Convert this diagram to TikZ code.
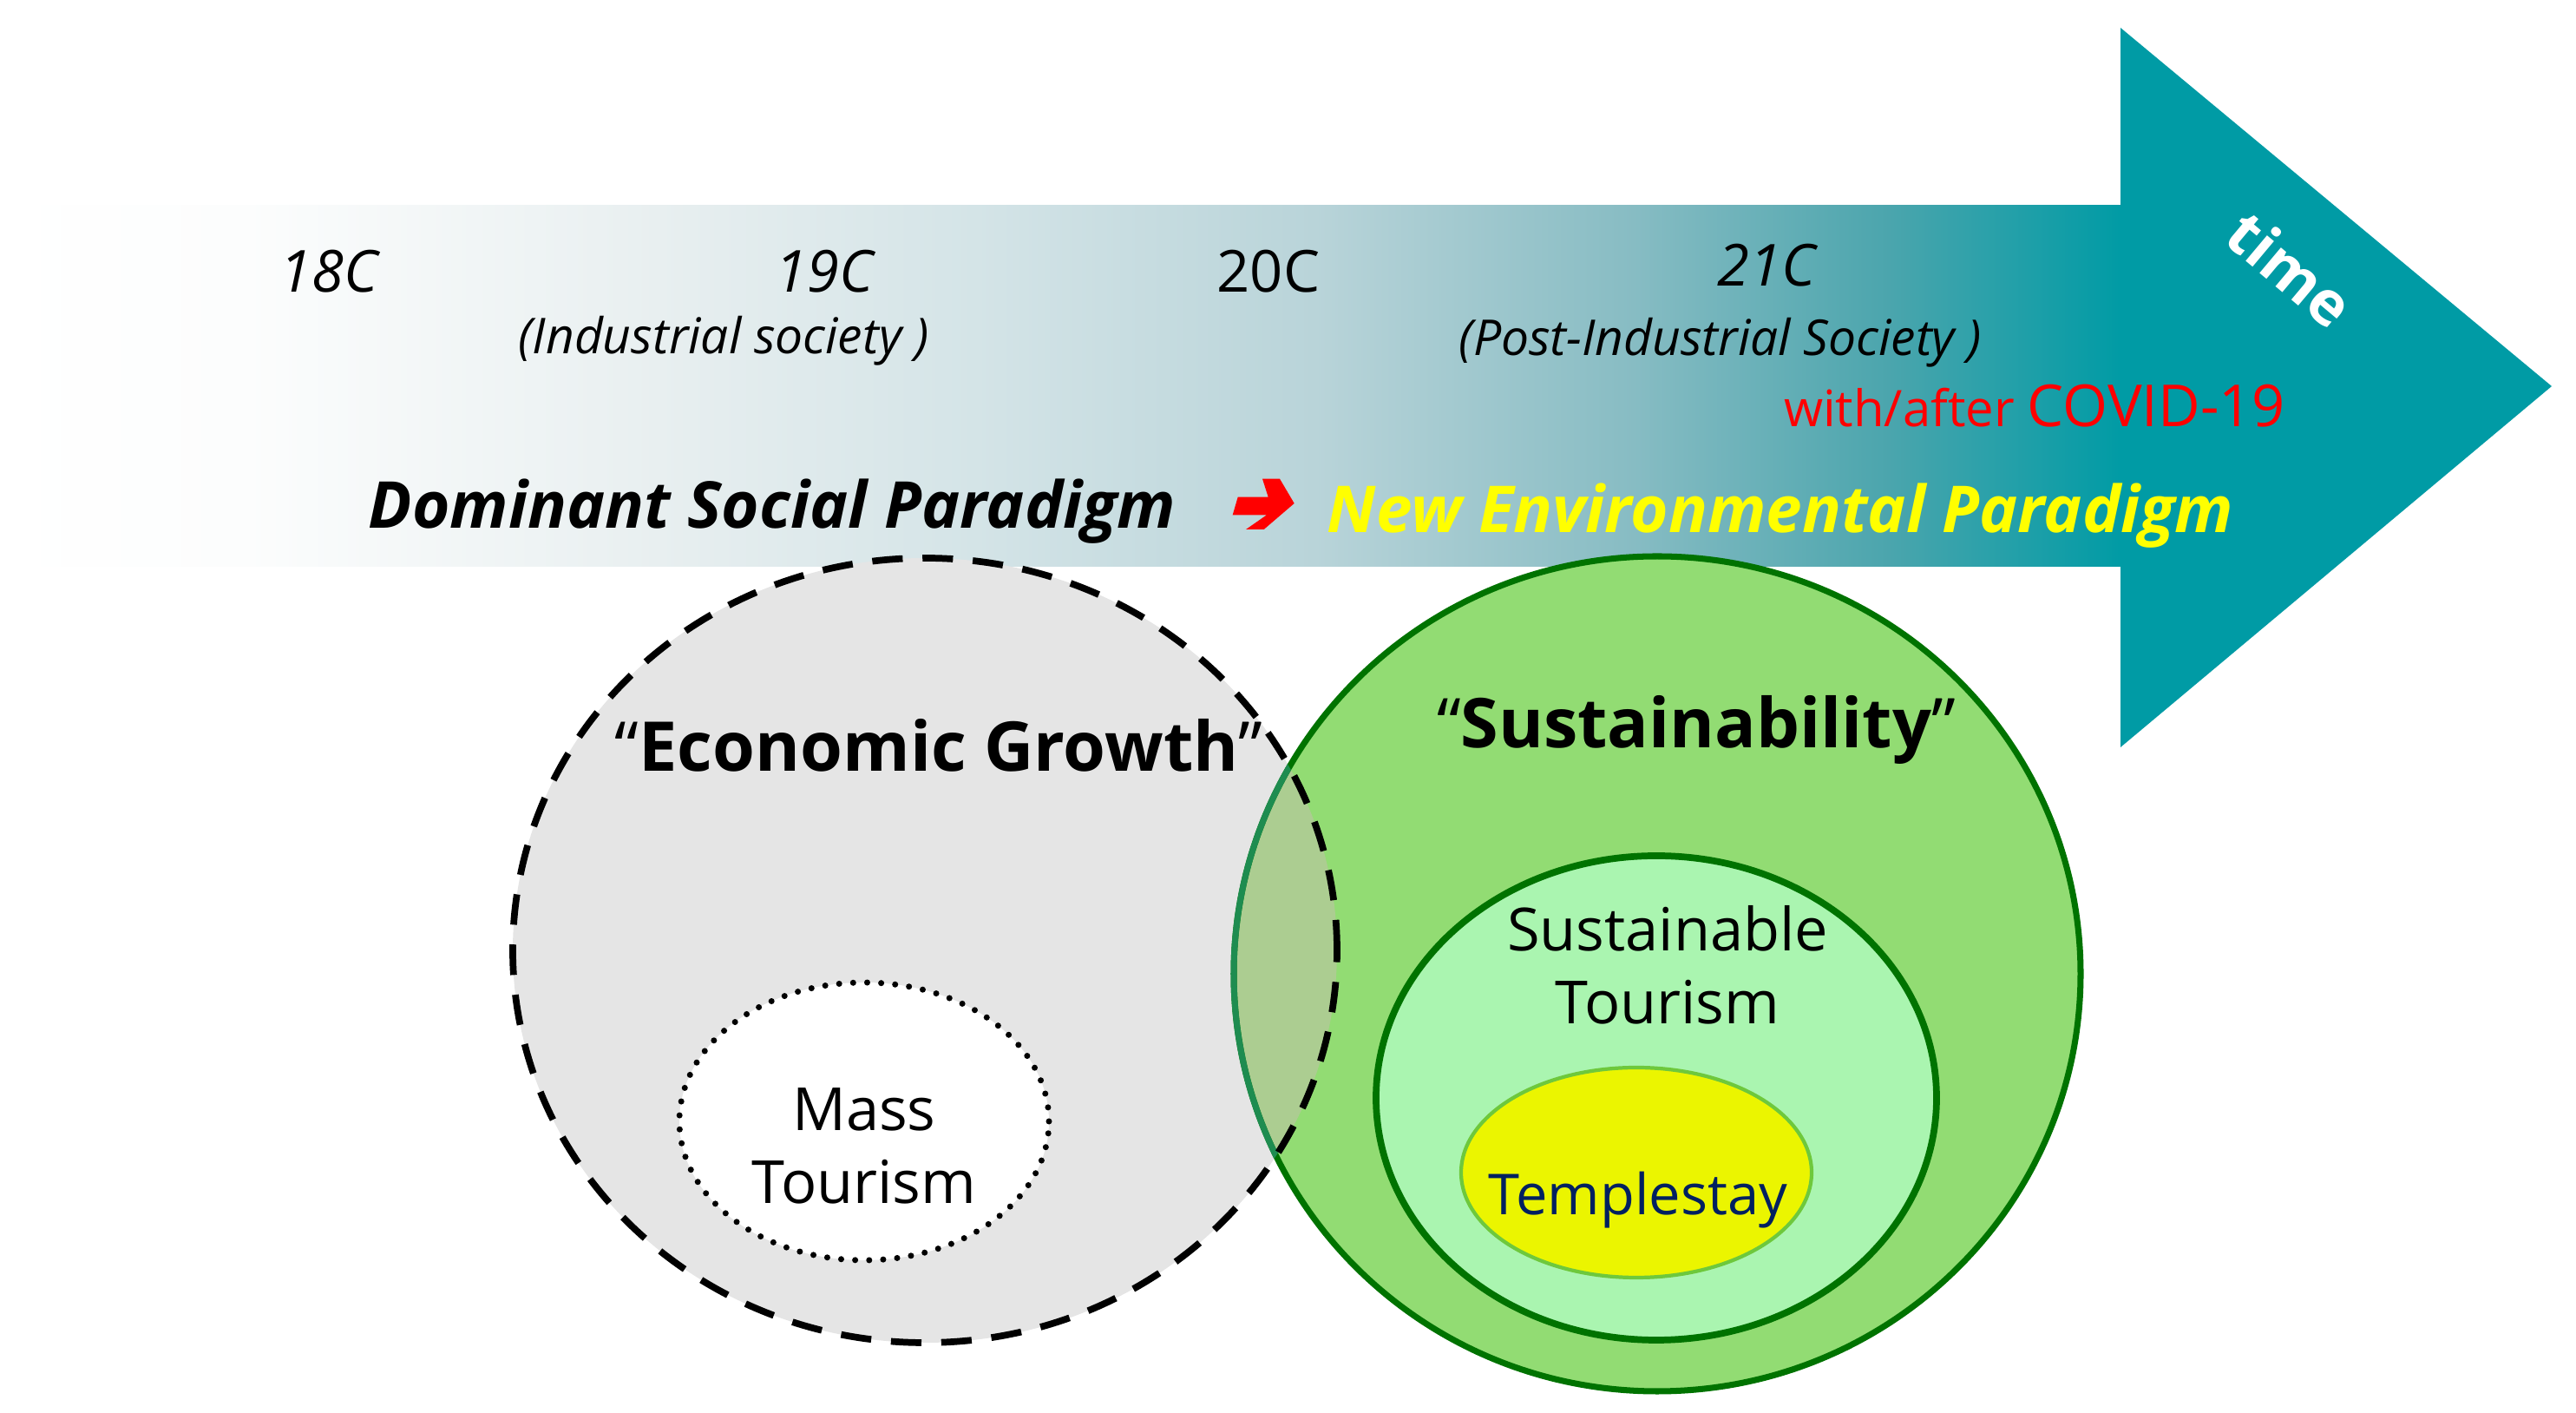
\documentclass[tikz,border=0pt]{standalone}
\usepackage{fontspec}
\setmainfont{Open Sans}
\usepackage{tikz}
\definecolor{timeteal}{RGB}{0,155,165}
\definecolor{econgray}{RGB}{229,229,229}
\definecolor{sustgreen}{RGB}{146,220,115}
\definecolor{overlapgreen}{RGB}{172,205,145}
\definecolor{dkgreen}{RGB}{0,115,0}
\definecolor{ltgreen}{RGB}{30,140,80}
\definecolor{tourmint}{RGB}{170,245,176}
\definecolor{templeyellow}{RGB}{235,245,0}
\definecolor{templeborder}{RGB}{110,200,60}
\definecolor{templenavy}{RGB}{0,32,96}
\definecolor{npyellow}{RGB}{255,255,0}
\definecolor{covidred}{RGB}{255,0,0}
\pgfdeclarehorizontalshading{timeband}{100bp}{rgb(0bp)=(1,1,1); rgb(25bp)=(1,1,1);
  rgb(30.8bp)=(0.988,0.992,0.992); rgb(40.5bp)=(0.910,0.937,0.941);
  rgb(48bp)=(0.831,0.894,0.906); rgb(56bp)=(0.725,0.831,0.851);
  rgb(63.5bp)=(0.529,0.737,0.765); rgb(69.5bp)=(0.294,0.647,0.678);
  rgb(75bp)=(0,0.608,0.647); rgb(100bp)=(0,0.608,0.647)}
\pgfdeclarelayer{shapelayer}
\pgfsetlayers{shapelayer,main}
\tikzstyle{label}=[inner sep=0pt, anchor=base]
\tikzstyle{period}=[label, font=\fontsize{19pt}{23pt}\selectfont]
\tikzstyle{society}=[label, font=\fontsize{16.2pt}{19pt}\selectfont\itshape]
\tikzstyle{paradigm}=[label, font=\fontsize{21.2pt}{26pt}\selectfont\bfseries\itshape]
\tikzstyle{value}=[label, font=\fontsize{22.5pt}{27pt}\selectfont\bfseries]
\tikzstyle{tourism}=[label, align=center, font=\fontsize{19.5pt}{24pt}\selectfont]
\def\econpath{(10.66,5.33) ellipse [x radius=4.75, y radius=4.52]}
\def\sustpath{(19.10,5.06) ellipse [x radius=4.88, y radius=4.81]}

\begin{document}
\begin{tikzpicture}
    \useasboundingbox (0,0) rectangle (29.69,16.28);
    \begin{pgfonlayer}{shapelayer}
        % time arrow
        \shade [shading=timeband] (0,9.75) rectangle (24.46,13.91);
        \fill [timeteal] (24.44,15.96) -- (29.41,11.83) -- (24.44,7.67) -- cycle;
        % red shift arrow
        \fill [covidred] (14.267,10.553) -- (14.617,10.553) -- (14.55,10.763) -- (14.75,10.763)
            -- (14.917,10.48) -- (14.567,10.18) -- (14.36,10.18) -- (14.60,10.347)
            -- (14.207,10.347) -- cycle;
        % circles
        \fill [econgray] \econpath;
        \fill [sustgreen] \sustpath;
        \begin{scope}
            \clip \econpath;
            \fill [overlapgreen] \sustpath;
        \end{scope}
        \draw [dkgreen, line width=2pt] \sustpath;
        \begin{scope}
            \clip \econpath;
            \draw [ltgreen, line width=2pt] \sustpath;
        \end{scope}
        \draw [black, line width=2.2pt, dash pattern=on 10pt off 6.5pt] \econpath;
        \draw [black, fill=white, line width=2pt, line cap=round, dash pattern=on 0pt off 4.6pt]
            (9.96,3.36) ellipse [x radius=2.13, y radius=1.60];
        \draw [dkgreen, fill=tourmint, line width=2.2pt] (19.09,3.63) ellipse [x radius=3.23, y radius=2.79];
        \draw [templeborder, fill=templeyellow, line width=1.2pt] (18.86,2.77) ellipse [x radius=2.02, y radius=1.21];
    \end{pgfonlayer}

    \node [period] (c18) at (3.79,12.91) {\itshape 18C};
    \node [period] (c19) at (9.50,12.91) {\itshape 19C};
    \node [period] (c20) at (14.62,12.91) {20C};
    \node [period] (c21) at (20.36,12.98) {\itshape 21C};
    \node [society] (ind) at (8.34,12.20) {(Industrial society )};
    \node [society] (postind) at (19.83,12.18) {(Post-Industrial Society )};
    \node [label, text=covidred] (covid) at (23.45,11.36)
        {\fontsize{16.5pt}{20pt}\selectfont with/after \fontsize{19pt}{23pt}\selectfont COVID-19};
    \node [paradigm] (dsp) at (8.90,10.19) {Dominant Social Paradigm};
    \node [paradigm, text=npyellow] (nep) at (20.52,10.14) {New Environmental Paradigm};
    \node [inner sep=0pt, rotate=-40, text=white, font=\fontsize{20pt}{24pt}\selectfont\bfseries] (time) at (26.40,13.18) {time};
    \node [value] (econ) at (10.82,7.395) {{\mdseries “}Economic Growth{\mdseries ”}};
    \node [value] (sust) at (19.55,7.66) {{\mdseries “}Sustainability{\mdseries ”}};
    \node [tourism] (sustour) at (19.22,4.48) {Sustainable\\Tourism};
    \node [tourism] (mass) at (9.96,2.41) {Mass\\Tourism};
    \node [label, text=templenavy, font=\fontsize{18.5pt}{22pt}\selectfont] (temple) at (18.88,2.28) {Templestay};
\end{tikzpicture}
\end{document}
